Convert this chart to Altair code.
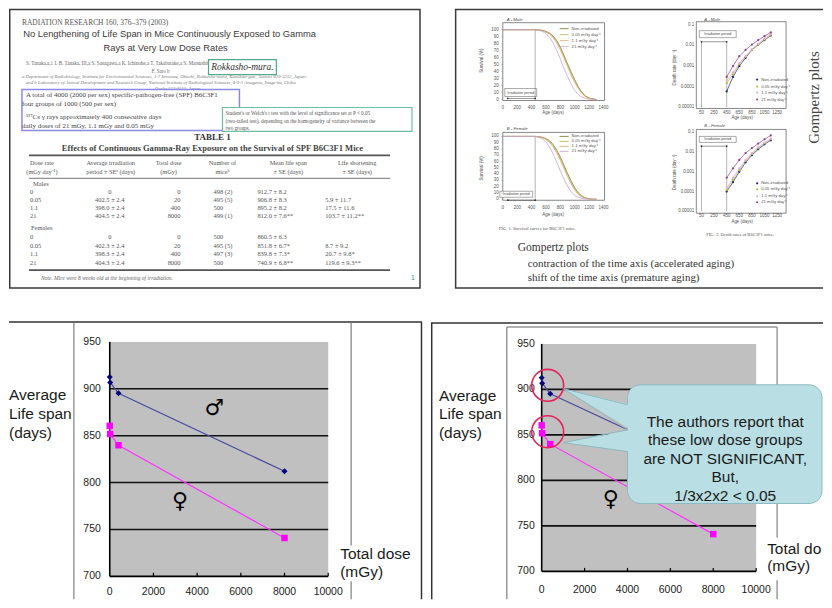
import altair as alt
import pandas as pd

SANS = "Liberation Sans"
SERIF = "Liberation Serif"
SYM = "DejaVu Sans"

# ===================== values =====================
# bottom charts: mean life span against total dose
total_dose = [0, 20, 400, 8000]
male_life = [912.7, 906.8, 895.2, 812.0]
female_life = [860.5, 851.8, 839.8, 740.9]
dose_ticks = [0, 2000, 4000, 6000, 8000, 10000]
life_ticks = [700, 750, 800, 850, 900, 950]
life_grid = [750, 800, 850, 900]
sign_text = ["♂", "♀"]
sign_dose = [4790, 3220]
sign_life = [880, 780]
circled_dose = [279, 279]
circled_life = [904.5, 853.5]
callout_lines = ["The authors report that", "these low dose groups",
                 "are NOT SIGNIFICANT,", "But,", "1/3x2x2 < 0.05"]
left_title = ["Average", "Life span", "(days)"]
right_title = ["Total dose", "(mGy)"]

# paper page: Table 1
journal = "RADIATION RESEARCH 160, 376–379 (2003)"
paper_title = ["No Lengthening of Life Span in Mice Continuously Exposed to Gamma",
               "Rays at Very Low Dose Rates"]
authors = ["S. Tanaka,a,1 I. B. Tanaka, III,a S. Sasagawa,a K. Ichinohe,a T. Takabatake,a S. Matsushita,a T. Matsumoto,a H. Otsu,a and",
           "F. Sato b"]
affiliations = ["a Department of Radiobiology, Institute for Environmental Sciences, 1-7 Ienomae, Obuchi, Rokkasho-mura, Kamikita-gun, Aomori 039-3212, Japan;",
                "and b Laboratory of Animal Development and Research Group, National Institute of Radiological Sciences, 4-9-1 Anagawa, Inage-ku, Chiba",
                "Osaka 553-8555, Japan"]
place = "Rokkasho-mura."
method_lines = ["A total of 4000 (2000 per sex) specific-pathogen-free (SPF) B6C3F1",
                "four groups of 1000 (500 per sex)",
                "¹³⁷Cs γ rays approximately 400 consecutive days",
                "daily doses of 21 mGy, 1.1 mGy and 0.05 mGy"]
stats_lines = ["Student's or Welch's t test with the level of significance set at P < 0.05",
               "(two-tailed test), depending on the homogeneity of variance between the",
               "two groups."]
table_title = ["TABLE 1", "Effects of Continuous Gamma-Ray Exposure on the Survival of SPF B6C3F1 Mice"]
table_head_1 = ["Dose rate", "Average irradiation", "Total dose", "Number of", "Mean life span", "Life shortening"]
table_head_2 = ["(mGy day⁻¹)", "period ± SEᵃ (days)", "(mGy)", "miceᵇ", "± SE (days)", "± SE (days)"]
dose_rates = ["0", "0.05", "1.1", "21"]
male_period = ["0", "402.5 ± 2.4", "398.0 ± 2.4", "404.5 ± 2.4"]
female_period = ["0", "402.3 ± 2.4", "398.3 ± 2.4", "404.3 ± 2.4"]
male_mice = ["498 (2)", "495 (5)", "500", "499 (1)"]
female_mice = ["500", "495 (5)", "497 (3)", "500"]
male_life_se = ["8.2", "8.3", "8.2", "7.6**"]
female_life_se = ["6.3", "6.7*", "7.3*", "6.8**"]
male_short = ["", "5.9 ± 11.7", "17.5 ± 11.6", "103.7 ± 11.2**"]
female_short = ["", "8.7 ± 9.2", "20.7 ± 9.8*", "119.6 ± 9.3**"]
table_note = "Note. Mice were 8 weeks old at the beginning of irradiation."

# paper page: Fig. 1 (survival) and Fig. 2 (death rate)
series_names = ["Non-irradiated", "0.05 mGy day⁻¹", "1.1 mGy day⁻¹", "21 mGy day⁻¹"]
surv_colors = ["#7E6B2E", "#B7B24A", "#D7A878", "#C7A3CF"]
rate_colors = ["#1C2580", "#B3C23C", "#F2A6CB", "#8E3E91"]
surv_age = [0, 450, 500, 550, 600, 650, 700, 750, 800, 850, 900, 950, 1000, 1050, 1100, 1150, 1200, 1250, 1300]
surv_male = [
    [100, 100, 99.5, 99, 97.5, 95, 91, 84, 75, 63, 51, 39, 28, 18, 10, 5, 2, 1, 0],
    [100, 100, 99.5, 98.8, 97, 94.5, 90, 83, 73.5, 62, 50, 38, 27, 17, 9.5, 4.5, 2, 0.8, 0],
    [100, 100, 99.3, 98.5, 96.5, 93.5, 88.5, 81, 71, 59, 47, 35, 24.5, 15.5, 8.5, 4, 1.5, 0.5, 0],
    [100, 100, 99, 97.5, 94.5, 89, 81, 70, 58, 45, 33, 22, 13, 7, 3.5, 1.5, 0.5, 0, 0],
]
surv_female = [
    [100, 100, 99.5, 98.5, 96.5, 93, 87, 78, 67, 54, 41, 29, 18, 10, 5, 2, 1, 0, 0],
    [100, 100, 99.3, 98.2, 96, 92, 85.5, 76, 65, 52, 39, 27, 16.5, 9, 4.5, 2, 0.8, 0, 0],
    [100, 100, 99, 97.8, 95, 90.5, 83.5, 73.5, 62, 49, 36, 24.5, 14.5, 7.5, 3.5, 1.5, 0.5, 0, 0],
    [100, 100, 98.5, 96, 91, 83, 72, 59, 45, 32, 21, 12, 6, 3, 1.2, 0.5, 0, 0, 0],
]
rate_age = [450, 550, 650, 750, 850, 950, 1050, 1150]
rate_male = [
    [0.00006, 0.0003, 0.001, 0.0025, 0.006, 0.011, 0.018, 0.03],
    [0.00015, 0.0004, 0.0012, 0.0028, 0.006, 0.011, 0.019, 0.032],
    [0.0002, 0.0005, 0.0014, 0.003, 0.0065, 0.012, 0.021, 0.035],
    [0.0003, 0.001, 0.003, 0.006, 0.011, 0.018, 0.028, 0.042],
]
rate_female = [
    [0.0001, 0.0003, 0.001, 0.003, 0.007, 0.014, 0.025, 0.04],
    [0.00012, 0.0004, 0.0012, 0.0035, 0.008, 0.016, 0.028, 0.045],
    [0.00015, 0.0005, 0.0015, 0.004, 0.009, 0.018, 0.03, 0.05],
    [0.0005, 0.0015, 0.004, 0.009, 0.016, 0.027, 0.045, 0.07],
]
surv_age_ticks = [0, 200, 400, 600, 800, 1000, 1200, 1400]
surv_pct_ticks = [0, 10, 20, 30, 40, 50, 60, 70, 80, 90, 100]
rate_age_ticks = [50, 250, 450, 650, 850, 1050, 1250]
rate_ticks = [0.00001, 0.0001, 0.001, 0.01, 0.1]
rate_tick_labels = ["0.00001", "0.0001", "0.001", "0.01", "0.1"]
fig_captions = ["FIG. 1. Survival curves for B6C3F1 mice.", "FIG. 2. Death rates of B6C3F1 mice."]
gompertz_lines = ["Gompertz plots", "contraction of the time axis (accelerated aging)",
                  "shift of the time axis (premature aging)"]


# ===================== helpers (layout in panel pixels) =====================
def ix(f="x"):
    return alt.X(f"{f}:Q", scale=None, axis=None)


def iy(f="y"):
    return alt.Y(f"{f}:Q", scale=None, axis=None)


def texts(rows, dx=0, **style):
    df = pd.DataFrame(rows, columns=["x", "y", "t"])
    df["x"] = df["x"] + dx
    return alt.Chart(df).mark_text(**style).encode(x=ix(), y=iy(), text=alt.Text("t:N"))


def rects(rows, dx=0, **style):
    df = pd.DataFrame(rows, columns=["x", "y", "x2", "y2"])
    df["x"] = df["x"] + dx
    df["x2"] = df["x2"] + dx
    return alt.Chart(df).mark_rect(**style).encode(x=ix(), x2="x2:Q", y=iy(), y2="y2:Q")


def segs(rows, dx=0, **style):
    df = pd.DataFrame(rows, columns=["x", "y", "x2", "y2"])
    df["x"] = df["x"] + dx
    df["x2"] = df["x2"] + dx
    return alt.Chart(df).mark_rule(**style).encode(x=ix(), x2="x2:Q", y=iy(), y2="y2:Q")


# ===================== top-left: paper page with Table 1 =====================
def top_left():
    L = []
    L.append(rects([(0.75, 0.75, 412, 280)], fill="white", stroke="#3a3a3a", strokeWidth=1.5))
    L.append(texts([(13, 14, journal)], font=SERIF, fontSize=7.5, color="#555", align="left"))
    L.append(texts([(161, 25, paper_title[0]), (157, 39, paper_title[1])],
                   font=SANS, fontSize=9.4, color="#3a3a3a"))
    L.append(texts([(17, 54, authors[0])], font=SERIF, fontSize=5.1, color="#666", align="left"))
    L.append(texts([(152, 62, authors[1])], font=SERIF, fontSize=5.1, color="#666"))
    L.append(texts([(13, 68, affiliations[0]), (17, 74, affiliations[1])],
                   font=SERIF, fontSize=4.8, color="#777", align="left", fontStyle="italic"))
    L.append(texts([(169, 80, affiliations[2])], font=SERIF, fontSize=4.8, color="#777", fontStyle="italic"))
    L.append(rects([(200, 51, 268, 66)], fill="white", stroke="#52A98A", strokeWidth=1.2))
    L.append(texts([(234, 58.5, place)], font=SERIF, fontSize=9.5, fontStyle="italic", color="#333"))
    L.append(rects([(13, 81, 231, 122)], fillOpacity=0, stroke="#8A8AE6", strokeWidth=1.5))
    L.append(texts([(17, 86, method_lines[0]), (13, 96, method_lines[1]),
                    (17, 109, method_lines[2]), (13, 118, method_lines[3])],
                   font=SERIF, fontSize=7, color="#444", align="left"))
    L.append(rects([(214, 99, 404, 123)], fill="white", stroke="#6CC0A0", strokeWidth=1.2))
    L.append(texts([(217, 105, stats_lines[0]), (217, 113, stats_lines[1]), (217, 120, stats_lines[2])],
                   font=SERIF, fontSize=5.2, color="#555", align="left"))
    L.append(texts([(204, 129, table_title[0])], font=SERIF, fontSize=9, fontWeight="bold", color="#333"))
    L.append(texts([(204, 140, table_title[1])], font=SERIF, fontSize=8.6, fontWeight="bold", color="#444"))
    L.append(segs([(20, 147, 382, 147), (20, 262, 382, 262)], color="#555", strokeWidth=1.8))
    L.append(segs([(20, 170, 382, 170)], color="#666", strokeWidth=0.9))
    head_x = [33, 102, 160, 214, 280, 349]
    L.append(texts([(x, 155, t) for x, t in zip(head_x, table_head_1)] +
                   [(x, 164, t) for x, t in zip(head_x, table_head_2)],
                   font=SERIF, fontSize=6.3, color="#555"))
    L.append(texts([(24, 176, "Males"), (22, 220, "Females")], font=SERIF, fontSize=6.5, color="#555", align="left"))
    male_y = [184, 191.5, 200, 208]
    female_y = [229, 237.5, 246, 254.5]
    left_rows, mid_rows, right_rows = [], [], []
    for ys, period, mice, life, se, short in [
        (male_y, male_period, male_mice, male_life, male_life_se, male_short),
        (female_y, female_period, female_mice, female_life, female_life_se, female_short),
    ]:
        for i, y in enumerate(ys):
            left_rows.append((21, y, dose_rates[i]))
            mid_rows.append((101, y, period[i]))
            right_rows.append((172, y, str(total_dose[i])))
            left_rows.append((205, y, mice[i]))
            left_rows.append((249, y, f"{life[i]:.1f} ± {se[i]}"))
            if short[i]:
                left_rows.append((317, y, short[i]))
    L.append(texts(left_rows, font=SERIF, fontSize=6.5, color="#555", align="left"))
    L.append(texts(mid_rows, font=SERIF, fontSize=6.5, color="#555"))
    L.append(texts(right_rows, font=SERIF, fontSize=6.5, color="#555", align="right"))
    L.append(texts([(32, 270, table_note)], font=SERIF, fontSize=5.5, fontStyle="italic", color="#666", align="left"))
    L.append(texts([(405, 270, "1")], font=SANS, fontSize=7, color="#3AA070"))
    return alt.layer(*L).properties(width=423, height=297)


# ===================== top-right: paper page with Fig. 1 and Fig. 2 =====================
SMALL = dict(font=SANS, fontSize=4.5, color="#555")


def survival_plot(values, yr, frame_bottom, irr_y):
    rows = []
    for name, vals in zip(series_names, values):
        for a, v in zip(surv_age, vals):
            rows.append({"age": a, "s": v, "g": name})
    df = pd.DataFrame(rows)
    xs = alt.Scale(domain=[0, 1400], range=[72, 173], nice=False, zero=False)
    ys = alt.Scale(domain=[0, 100], range=yr, nice=False, zero=False)
    X = lambda f: alt.X(f"{f}:Q", scale=xs, axis=None)
    Y = lambda f: alt.Y(f"{f}:Q", scale=ys, axis=None)
    lines = alt.Chart(df).mark_line(strokeWidth=0.8).encode(
        x=X("age"), y=Y("s"),
        color=alt.Color("g:N", scale=alt.Scale(domain=series_names, range=surv_colors), legend=None),
    )
    vline = alt.Chart(pd.DataFrame({"a": [450], "s": [0], "s2": [100]})).mark_rule(
        color="#666", strokeWidth=0.5).encode(x=X("a"), y=Y("s"), y2="s2:Q")
    irr = pd.DataFrame({"a": [70, 450], "s": [irr_y, irr_y]})
    irr_line = alt.Chart(irr).mark_line(color="#333", strokeWidth=0.5).encode(x=X("a"), y=Y("s"))
    irr_dots = alt.Chart(irr).mark_point(color="#333", filled=True, size=3, opacity=1).encode(x=X("a"), y=Y("s"))
    ylab = alt.Chart(pd.DataFrame({"px": [68] * len(surv_pct_ticks), "v": surv_pct_ticks,
                                   "t": [str(t) for t in surv_pct_ticks]})).mark_text(
        align="right", **SMALL).encode(x=ix("px"), y=Y("v"), text="t:N")
    xlab = alt.Chart(pd.DataFrame({"v": surv_age_ticks, "py": [frame_bottom + 8] * len(surv_age_ticks),
                                   "t": [str(t) for t in surv_age_ticks]})).mark_text(**SMALL).encode(
        x=X("v"), y=iy("py"), text="t:N")
    ticks_y = alt.Chart(pd.DataFrame({"v": surv_pct_ticks, "p1": [72] * 11, "p2": [70.5] * 11})).mark_rule(
        color="#777", strokeWidth=0.4).encode(x=ix("p1"), x2="p2:Q", y=Y("v"))
    return alt.layer(vline, lines, irr_line, irr_dots, ylab, xlab, ticks_y)


def rate_plot(values, yr, frame_bottom, irr_rate, lab_dy):
    rows = []
    for name, vals in zip(series_names, values):
        for a, v in zip(rate_age, vals):
            rows.append({"age": a, "r": v, "g": name})
    df = pd.DataFrame(rows)
    xs = alt.Scale(domain=[0, 1400], range=[268, 356.5], nice=False, zero=False)
    ys = alt.Scale(type="log", domain=[0.00001, 0.1], range=yr, nice=False)
    X = lambda f: alt.X(f"{f}:Q", scale=xs, axis=None)
    Y = lambda f: alt.Y(f"{f}:Q", scale=ys, axis=None)
    cs = alt.Scale(domain=series_names, range=rate_colors)
    base = alt.Chart(df).encode(x=X("age"), y=Y("r"), color=alt.Color("g:N", scale=cs, legend=None))
    lines = base.mark_line(strokeWidth=0.7)
    pts = base.mark_point(filled=True, size=5, opacity=1)
    vl = alt.Chart(pd.DataFrame({"a": [50, 450], "r": [irr_rate, irr_rate], "r2": [0.00001, 0.00001]})).mark_rule(
        color="#666", strokeWidth=0.5).encode(x=X("a"), y=Y("r"), y2="r2:Q")
    irr = pd.DataFrame({"a": [50, 450], "r": [irr_rate, irr_rate]})
    irr_line = alt.Chart(irr).mark_line(color="#333", strokeWidth=0.5).encode(x=X("a"), y=Y("r"))
    irr_dots = alt.Chart(irr).mark_point(color="#333", filled=True, size=3, opacity=1).encode(x=X("a"), y=Y("r"))
    ylab = alt.Chart(pd.DataFrame({"px": [264] * 5, "v": rate_ticks, "t": rate_tick_labels})).mark_text(
        align="right", **SMALL).encode(x=ix("px"), y=Y("v"), text="t:N")
    xlab = alt.Chart(pd.DataFrame({"v": rate_age_ticks, "py": [frame_bottom + lab_dy] * len(rate_age_ticks),
                                   "t": [str(t) for t in rate_age_ticks]})).mark_text(**SMALL).encode(
        x=X("v"), y=iy("py"), text="t:N")
    return alt.layer(vl, lines, pts, irr_line, irr_dots, ylab, xlab)


def legend_lines(x, ys, colors):
    df = pd.DataFrame({"x": [x] * 4, "x2": [x + 9] * 4, "y": ys, "c": colors})
    return alt.Chart(df).mark_rule(strokeWidth=0.8).encode(
        x=ix(), x2="x2:Q", y=iy(), color=alt.Color("c:N", scale=None))


def legend_dots(x, ys, colors):
    df = pd.DataFrame({"x": [x] * 4, "y": ys, "c": colors})
    return alt.Chart(df).mark_point(filled=True, size=5, opacity=1).encode(
        x=ix(), y=iy(), color=alt.Color("c:N", scale=None))


def top_right():
    deco = []
    deco.append(segs([(24, 0.75, 393, 0.75), (24, 280, 393, 280), (24.75, 0.75, 24.75, 280)],
                     color="#3a3a3a", strokeWidth=1.5))
    deco.append(rects([(72, 14, 174, 92), (72, 124, 174, 192), (266, 13, 356, 100), (266, 121, 356, 205)],
                      fillOpacity=0, stroke="#555", strokeWidth=0.7))
    deco.append(rects([(74, 80, 106, 88), (69, 183, 102, 189), (269, 22, 306, 29), (269, 128, 306, 134)],
                      fill="white", stroke="#555", strokeWidth=0.5))
    labels = []
    labels.append(texts([(90, 84, "Irradiation period"), (85.5, 186, "Irradiation period"),
                         (287.5, 25.5, "Irradiation period"), (287.5, 131, "Irradiation period")],
                        font=SANS, fontSize=3.6, color="#444"))
    labels.append(texts([(76, 11, "A - Male"), (76, 121, "B - Female"), (274, 11, "A - Male"), (274, 118, "B - Female")],
                        font=SANS, fontSize=4.3, fontStyle="italic", color="#444", align="left"))
    surv_leg_m = [20, 26, 32, 38]
    surv_leg_f = [128, 133, 138, 143]
    labels.append(legend_lines(129, surv_leg_m, surv_colors))
    labels.append(legend_lines(129, surv_leg_f, surv_colors))
    labels.append(texts([(141, y, n) for y, n in zip(surv_leg_m, series_names)] +
                        [(141, y, n) for y, n in zip(surv_leg_f, series_names)],
                        font=SANS, fontSize=4.3, color="#555", align="left"))
    rate_leg_m = [71, 78, 84, 91]
    rate_leg_f = [175, 181, 188, 194]
    labels.append(legend_dots(327, rate_leg_m, rate_colors))
    labels.append(legend_dots(327, rate_leg_f, rate_colors))
    labels.append(texts([(331, y, n) for y, n in zip(rate_leg_m, series_names)] +
                        [(331, y, n) for y, n in zip(rate_leg_f, series_names)],
                        font=SANS, fontSize=4.3, color="#555", align="left"))
    labels.append(texts([(122.5, 105, "Age (days)"), (122.5, 207, "Age (days)"),
                         (312, 110, "Age (days)"), (312, 214, "Age (days)")], **SMALL))
    labels.append(texts([(51, 52, "Survival (%)"), (51, 160, "Survival (%)")], angle=270, **SMALL))
    labels.append(texts([(245, 59, "Death rate (day⁻¹)"), (245, 164, "Death rate (day⁻¹)")], angle=270, **SMALL))
    labels.append(texts([(68, 221, fig_captions[0]), (276, 227, fig_captions[1])],
                        font=SERIF, fontSize=4.6, color="#555", align="left"))
    labels.append(texts([(87, 240, gompertz_lines[0])], font=SERIF, fontSize=11.5, color="#333", align="left"))
    labels.append(texts([(97, 256, gompertz_lines[1]), (97, 270, gompertz_lines[2])],
                        font=SERIF, fontSize=11, color="#333", align="left"))
    labels.append(texts([(384, 89, gompertz_lines[0])], font=SERIF, fontSize=15, color="#444", angle=270))

    subs = [
        survival_plot(surv_male, [91, 21], 92, 1.5),
        survival_plot(surv_female, [191, 128], 192, -1.5),
        rate_plot(rate_male, [99, 16], 100, 0.015, 5),
        rate_plot(rate_female, [203, 124], 205, 0.02, 3),
    ]
    return alt.layer(*deco, *subs, *labels).resolve_scale(
        x="independent", y="independent", color="independent").properties(width=393, height=297)


# ===================== bottom: life span charts =====================
AXIS_TEXT = dict(font=SANS, fontSize=10.5, color="#1a1a1a")


def life_layers(xr, yr, ylab_x, xlab_y):
    xs = alt.Scale(domain=[0, 10000], range=xr, nice=False, zero=False)
    ys = alt.Scale(domain=[700, 950], range=yr, nice=False, zero=False)
    X = lambda f: alt.X(f"{f}:Q", scale=xs, axis=None)
    Y = lambda f: alt.Y(f"{f}:Q", scale=ys, axis=None)
    bg = alt.Chart(pd.DataFrame({"x": [0], "x2": [10000], "y": [700], "y2": [950]})).mark_rect(
        color="#C0C0C0").encode(x=X("x"), x2="x2:Q", y=Y("y"), y2="y2:Q")
    grid = alt.Chart(pd.DataFrame({"x": [0] * 4, "x2": [10000] * 4, "y": life_grid})).mark_rule(
        color="#111", strokeWidth=1.6).encode(x=X("x"), x2="x2:Q", y=Y("y"))
    axes = alt.Chart(pd.DataFrame({"x": [0, 0], "x2": [0, 10000], "y": [700, 700], "y2": [950, 700]})).mark_rule(
        color="#000", strokeWidth=1.6).encode(x=X("x"), x2="x2:Q", y=Y("y"), y2="y2:Q")
    ticks = alt.Chart(pd.DataFrame({"x": dose_ticks[1:], "y": [700] * 5, "y2": [703.8] * 5})).mark_rule(
        color="#000", strokeWidth=1.2).encode(x=X("x"), y=Y("y"), y2="y2:Q")
    ylab = alt.Chart(pd.DataFrame({"px": [ylab_x] * len(life_ticks), "v": life_ticks,
                                   "t": [str(v) for v in life_ticks]})).mark_text(
        align="right", **AXIS_TEXT).encode(x=ix("px"), y=Y("v"), text="t:N")
    xlab = alt.Chart(pd.DataFrame({"v": dose_ticks, "py": [xlab_y] * len(dose_ticks),
                                   "t": [str(v) for v in dose_ticks]})).mark_text(**AXIS_TEXT).encode(
        x=X("v"), y=iy("py"), text="t:N")
    male = pd.DataFrame({"d": total_dose, "v": male_life})
    female = pd.DataFrame({"d": total_dose, "v": female_life})
    enc = dict(x=X("d"), y=Y("v"))
    m_line = alt.Chart(male).mark_line(color="#4B4BA0", strokeWidth=1.2).encode(**enc)
    m_pts = alt.Chart(male).mark_point(shape="diamond", filled=True, color="#000080", size=36, opacity=1).encode(**enc)
    f_line = alt.Chart(female).mark_line(color="#FF33FF", strokeWidth=1.2).encode(**enc)
    f_pts = alt.Chart(female).mark_point(shape="square", filled=True, color="#FF00FF", size=42, opacity=1).encode(**enc)
    signs = alt.Chart(pd.DataFrame({"d": sign_dose, "v": sign_life, "t": sign_text})).mark_text(
        font=SYM, fontSize=22, color="#000").encode(text="t:N", **enc)
    return [bg, grid, axes, ticks, ylab, xlab, m_line, f_line, m_pts, f_pts, signs], xs, ys


def bottom_left():
    L = []
    L.append(segs([(0, 17, 414, 17), (413.5, 17, 413.5, 295)], color="#333", strokeWidth=1.5))
    L.append(segs([(65, 18, 65, 295), (343, 18, 343, 295)], color="#999", strokeWidth=1.5))
    data, xs, ys = life_layers([101, 320], [272, 37], 92, 288)
    L += data
    L.append(rects([(330, 241, 412, 277)], fill="white", strokeOpacity=0))
    L.append(texts([(0, 90, left_title[0]), (0, 109, left_title[1]), (0, 128, left_title[2])],
                   font=SANS, fontSize=15.5, color="#1a1a1a", align="left"))
    L.append(texts([(332, 250, right_title[0]), (332, 268, right_title[1])],
                   font=SANS, fontSize=15.5, color="#1a1a1a", align="left"))
    return alt.layer(*L).properties(width=423, height=295)


def bottom_right():
    L = []
    L.append(segs([(0, 18, 393, 18), (0.75, 18, 0.75, 295)], color="#333", strokeWidth=1.5))
    L.append(segs([(76, 22, 347, 22), (76, 22, 76, 295), (347, 22, 347, 295)], color="#999", strokeWidth=1.5))
    data, xs, ys = life_layers([111, 326], [267, 39], 104, 286)
    L += data
    circ = pd.DataFrame({"d": circled_dose, "v": circled_life})
    L.append(alt.Chart(circ).mark_point(shape="circle", filled=False, size=1024, color="#E3245A",
                                        strokeWidth=1.6, opacity=1).encode(
        x=alt.X("d:Q", scale=xs, axis=None), y=alt.Y("v:Q", scale=ys, axis=None)))
    # callout: pointers, box and text
    tri = pd.DataFrame({"x": [133, 201, 133, 201], "y": [84, 100, 138, 125], "y2": [84, 125, 138, 147],
                        "k": ["a", "a", "b", "b"]})
    fill_c = "#B9DFE4"
    edge_c = "#8DB9C0"
    L.append(rects([(197, 80, 392, 199)], fill=fill_c, stroke=edge_c, strokeWidth=1, cornerRadius=13))
    L.append(alt.Chart(tri).mark_area(color=fill_c, opacity=1).encode(
        x=ix(), y=iy(), y2="y2:Q", detail="k:N"))
    edges = pd.DataFrame({"x": [197, 133, 197, 197, 133, 197], "y": [100, 84, 125, 125, 138, 147],
                          "o": [0, 1, 2, 0, 1, 2], "k": ["a", "a", "a", "b", "b", "b"]})
    L.append(alt.Chart(edges).mark_line(color=edge_c, strokeWidth=1).encode(
        x=ix(), y=iy(), order="o:Q", detail="k:N"))
    L.append(texts([(295, 117 + 18.5 * i, t) for i, t in enumerate(callout_lines)],
                   font=SANS, fontSize=15.5, color="#1a1a1a"))
    L.append(rects([(335, 233, 392, 276)], fill="white", strokeOpacity=0))
    L.append(texts([(8, 91, left_title[0]), (8, 109, left_title[1]), (8, 128, left_title[2])],
                   font=SANS, fontSize=15.5, color="#1a1a1a", align="left"))
    L.append(texts([(337, 245, right_title[0]), (337, 262, right_title[1])],
                   font=SANS, fontSize=15.5, color="#1a1a1a", align="left", limit=55, ellipsis="\u200b"))
    return alt.layer(*L).properties(width=393, height=295)


chart = alt.concat(top_left(), top_right(), bottom_left(), bottom_right(),
                   columns=2, spacing=0, bounds="flush", align="none").properties(
    padding=0, background="white"
).configure_view(strokeWidth=0)

chart.save("out.html", embed_options={"renderer": "svg", "actions": False})
